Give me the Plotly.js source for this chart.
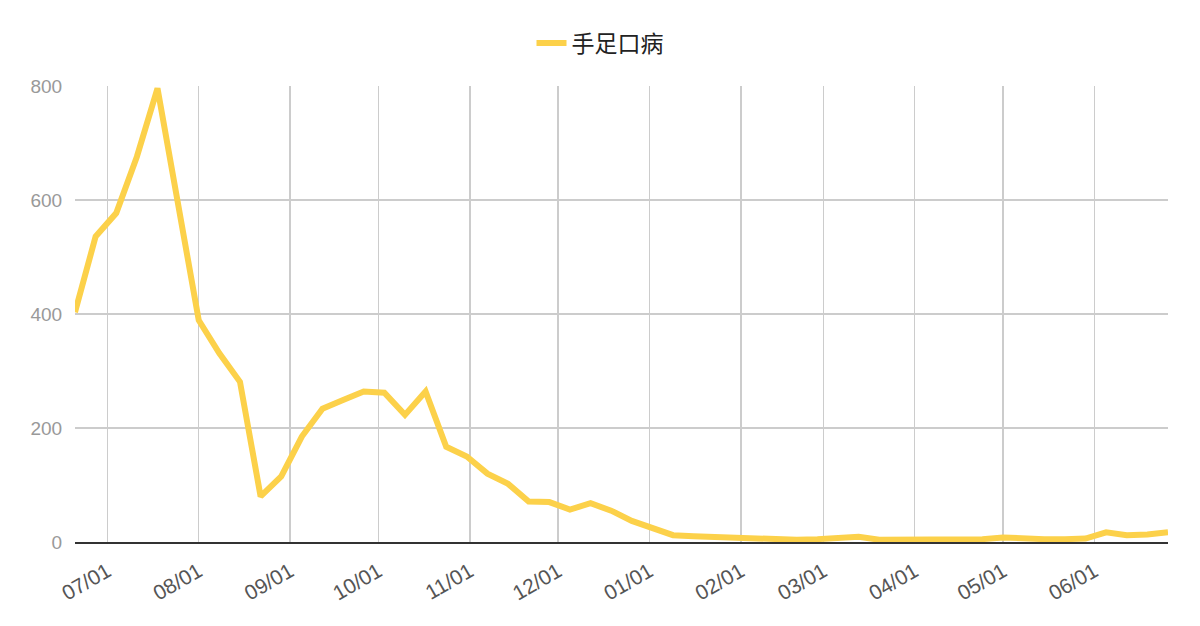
<!DOCTYPE html>
<html>
<head>
<meta charset="utf-8">
<script src="https://cdn.plot.ly/plotly-3.0.1.min.js"></script>
<style>html,body{margin:0;padding:0;background:#fff;}#chart{width:1200px;height:626px;}</style>
</head>
<body>
<div id="chart"></div>
<script>
const seriesName = '手足口病';
const weekDates = [
  '2022-06-20','2022-06-27','2022-07-04','2022-07-11','2022-07-18','2022-07-25',
  '2022-08-01','2022-08-08','2022-08-15','2022-08-22','2022-08-29',
  '2022-09-05','2022-09-12','2022-09-19','2022-09-26',
  '2022-10-03','2022-10-10','2022-10-17','2022-10-24','2022-10-31',
  '2022-11-07','2022-11-14','2022-11-21','2022-11-28',
  '2022-12-05','2022-12-12','2022-12-19','2022-12-26',
  '2023-01-02','2023-01-09','2023-01-16','2023-01-23','2023-01-30',
  '2023-02-06','2023-02-13','2023-02-20','2023-02-27',
  '2023-03-06','2023-03-13','2023-03-20','2023-03-27',
  '2023-04-03','2023-04-10','2023-04-17','2023-04-24',
  '2023-05-01','2023-05-08','2023-05-15','2023-05-22','2023-05-29',
  '2023-06-05','2023-06-12','2023-06-19','2023-06-26'
];
const cases = [
  403, 536, 577, 676, 796, 595,
  389, 331, 281, 80, 115,
  185, 234, 249, 264,
  262, 223, 264, 167, 150,
  120, 102, 71, 70,
  57, 68, 55, 37,
  24, 12, 10, 9, 7,
  5, 6, 4, 5,
  7, 9, 4, 4,
  4, 5, 5, 5,
  8, 6, 5, 5, 6,
  17, 12, 13, 17
];
const yTicks = [0, 200, 400, 600, 800];

const trace = {
  type: 'scatter',
  mode: 'lines',
  name: seriesName,
  x: weekDates,
  y: cases,
  line: {color: '#FCD14A', width: 6},
  hoverinfo: 'x+y'
};

const layout = {
  width: 1200,
  height: 626,
  margin: {l: 75, r: 32, t: 86, b: 84},
  paper_bgcolor: '#fff',
  plot_bgcolor: '#fff',
  font: {family: 'Liberation Sans, Arial, "Noto Sans CJK TC", sans-serif', color: '#666'},
  showlegend: true,
  legend: {
    orientation: 'h',
    xref: 'container', yref: 'container',
    x: 0.5, xanchor: 'center',
    y: 1 - 43/626, yanchor: 'middle',
    font: {size: 23, color: '#222', family: '"Noto Sans CJK TC", "Noto Sans CJK SC", sans-serif'},
    itemwidth: 30
  },
  xaxis: {
    type: 'date',
    range: [weekDates[0], weekDates[weekDates.length - 1]],
    tick0: '2022-07-01',
    dtick: 'M1',
    tickformat: '%m/%d',
    tickangle: -30,
    tickfont: {size: 21, color: '#555'},
    showgrid: true,
    gridcolor: '#cccccc',
    gridwidth: 1.5,
    showline: true,
    linecolor: '#333',
    linewidth: 2,
    zeroline: false,
    ticks: 'outside',
    ticklen: 7,
    tickcolor: 'rgba(0,0,0,0)',
    fixedrange: true
  },
  yaxis: {
    range: [0, 800],
    tickvals: yTicks,
    ticktext: yTicks.map(String),
    tickfont: {size: 19, color: '#999'},
    showgrid: true,
    gridcolor: '#cccccc',
    gridwidth: 1.5,
    zeroline: false,
    showline: false,
    ticks: 'outside',
    ticklen: 8,
    tickcolor: 'rgba(0,0,0,0)',
    fixedrange: true
  }
};

Plotly.newPlot('chart', [trace], layout, {displayModeBar: false, staticPlot: true});
</script>
</body>
</html>
